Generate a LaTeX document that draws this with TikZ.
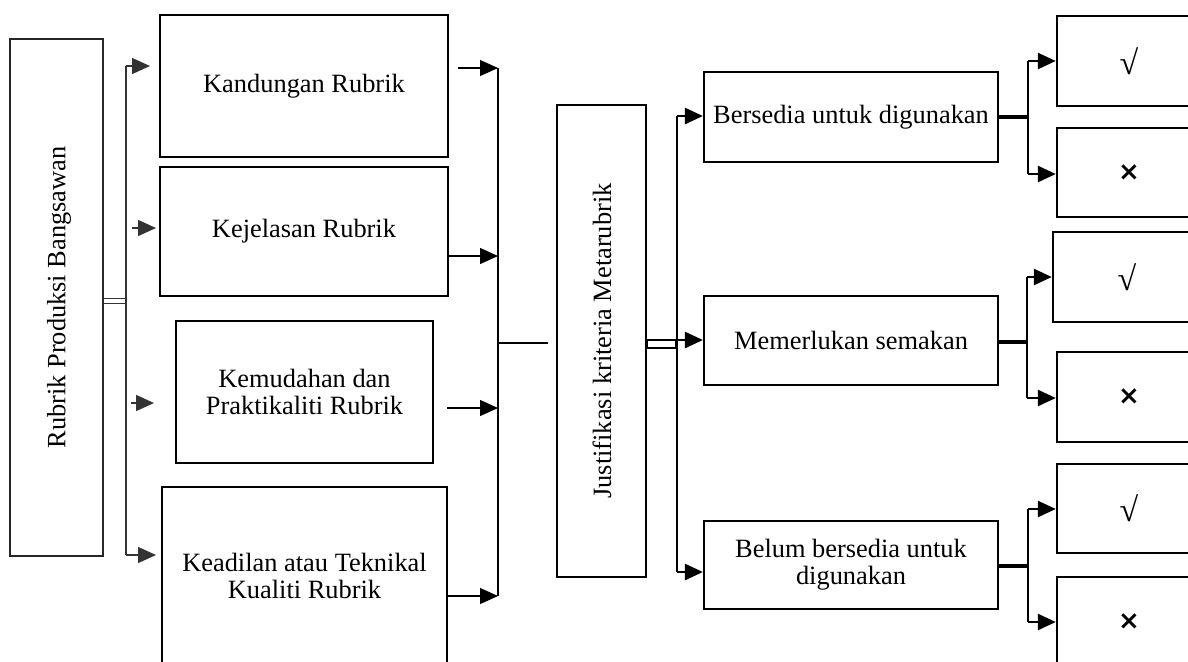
\documentclass[tikz,border=0pt]{standalone}
\usepackage{fontspec}
\setmainfont{Liberation Serif}
\newfontfamily\symfont{DejaVu Sans}
\usetikzlibrary{arrows.meta}
\newcommand{\tickmark}{\fontsize{17}{17}\selectfont √}
\newcommand{\crossmark}{{\symfont\bfseries\fontsize{13}{13}\selectfont ×}}
\begin{document}
\begin{tikzpicture}[x=0.5pt,y=-0.5pt,
  font=\fontsize{13.2}{13.5}\selectfont,
  sz/.style 2 args={minimum width=#1*0.5pt, minimum height=#2*0.5pt},
  box/.style={draw, rectangle, inner sep=0pt, align=center},
  lbox/.style={box, line width=0.7pt, draw=black!85},
  kbox/.style={box, line width=1.3pt},
  jbox/.style={box, line width=1.3pt},
  bbox/.style={box, line width=1.1pt},
  rbox/.style={box, line width=1.2pt},
  arr/.style={-{Triangle[length=9pt,width=8pt]}},
  lconn/.style={line width=0.7pt, draw=black!80},
  mconn/.style={line width=0.6pt},
  jconn/.style={line width=1.3pt},
  hconn/.style={line width=2.2pt},
  rconn/.style={line width=1.3pt}
]
\useasboundingbox (0,0) rectangle (1188,661);
\clip (0,0) rectangle (1188,661);

% ---------- nodes ----------
\node[lbox, sz={93}{517}] (L) at (56.5,297.5) {};
\node[rotate=90] (Lt) at (59,297.5) {Rubrik Produksi Bangsawan};

\node[kbox, sz={288}{142}] (K1) at (304,86) {Kandungan Rubrik};
\node[kbox, sz={288}{129}] (K2) at (304,231.5) {Kejelasan Rubrik};
\node[kbox, sz={257}{142}] (K3) at (304.5,392) {Kemudahan dan\\Praktikaliti Rubrik};
\node[kbox, sz={285}{178}] (K4) at (304.5,576) {Keadilan atau Teknikal\\Kualiti Rubrik};

\node[jbox, sz={89}{472}] (J) at (601.5,341) {};
\node[rotate=90] (Jt) at (602,341) {Justifikasi kriteria Metarubrik};

\node[bbox, sz={294}{90}] (B1) at (851,117) {Bersedia untuk digunakan};
\node[bbox, sz={294}{89}] (B2) at (851,340.5) {Memerlukan semakan};
\node[bbox, sz={294}{88}] (B3) at (851,565) {Belum bersedia untuk\\digunakan};

\node[rbox, sz={144}{90}] (R1) at (1129,61) {\tickmark};
\node[rbox, sz={144}{89}] (R2) at (1129,172.5) {\crossmark};
\node[rbox, sz={148}{90}] (R3) at (1127,277) {\tickmark};
\node[rbox, sz={144}{90}] (R4) at (1129,397) {\crossmark};
\node[rbox, sz={144}{89}] (R5) at (1129,508.5) {\tickmark};
\node[rbox, sz={144}{90}] (R6) at (1129,622) {\crossmark};

% ---------- coordinates ----------
\coordinate (lt) at (126,301);
\coordinate (l1) at (126,66);
\coordinate (l4) at (126,555);
\coordinate (a1) at (150,66);
\coordinate (a2s) at (132,228);
\coordinate (a2e) at (156,228);
\coordinate (a3s) at (131,403);
\coordinate (a3e) at (154,403);
\coordinate (a4) at (156,555);

\coordinate (m1) at (498,68);
\coordinate (m2) at (498,256);
\coordinate (m3) at (498,408);
\coordinate (m4) at (498,596);
\coordinate (mj) at (498,343);
\coordinate (mje) at (548,343);
\coordinate (k1s) at (458,68);
\coordinate (k3s) at (447,408);

\coordinate (jr) at (676,348);
\coordinate (j1) at (677,116);
\coordinate (j2) at (677,340);
\coordinate (j3) at (677,572);

\coordinate (c1) at (1028,117);
\coordinate (c1a) at (1028,61);
\coordinate (c1b) at (1028,174);
\coordinate (c2) at (1027,342);
\coordinate (c2a) at (1027,277);
\coordinate (c2b) at (1027,398);
\coordinate (c3) at (1028,566);
\coordinate (c3a) at (1028,509);
\coordinate (c3b) at (1028,622);

% ---------- left connectors ----------
\draw[lconn, double, double distance=1.6pt] (L.east |- lt) -- (lt);
\draw[lconn] (l1) -- (l4);
\draw[lconn, arr] (l1) -- (a1);
\draw[lconn, arr] (a2s) -- (a2e);
\draw[lconn, arr] (a3s) -- (a3e);
\draw[lconn, arr] (l4) -- (a4);

% ---------- middle connectors ----------
\draw[mconn] (m1) -- (m4);
\draw[mconn] (mj) -- (mje);
\draw[mconn, arr] (k1s) -- (m1);
\draw[mconn, arr] (K2.east |- m2) -- (m2);
\draw[mconn, arr] (k3s) -- (m3);
\draw[mconn, arr] (K4.east |- m4) -- (m4);

% ---------- Justifikasi to decisions ----------
\draw[line width=1.1pt] (J.east |- j2) rectangle (jr);
\draw[jconn] (j1) -- (j3);
\draw[jconn, arr] (j1) -- (B1.west |- j1);
\draw[jconn, arr] (j2) -- (B2.west |- j2);
\draw[jconn, arr] (j3) -- (B3.west |- j3);

% ---------- decisions to results ----------
\draw[hconn] (B1.east |- c1) -- (c1);
\draw[rconn] (c1a) -- (c1b);
\draw[rconn, arr] (c1a) -- (R1.west |- c1a);
\draw[rconn, arr] (c1b) -- (R2.west |- c1b);

\draw[hconn] (B2.east |- c2) -- (c2);
\draw[rconn] (c2a) -- (c2b);
\draw[rconn, arr] (c2a) -- (R3.west |- c2a);
\draw[rconn, arr] (c2b) -- (R4.west |- c2b);

\draw[hconn] (B3.east |- c3) -- (c3);
\draw[rconn] (c3a) -- (c3b);
\draw[rconn, arr] (c3a) -- (R5.west |- c3a);
\draw[rconn, arr] (c3b) -- (R6.west |- c3b);
\end{tikzpicture}
\end{document}
